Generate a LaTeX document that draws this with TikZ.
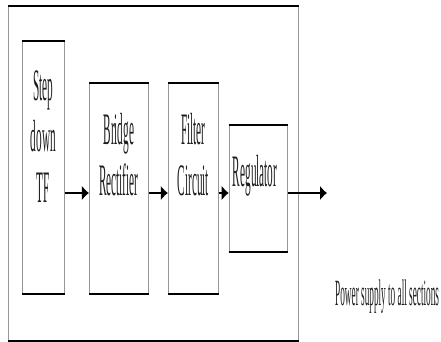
\documentclass[tikz,border=0pt]{standalone}
\usepackage{fontspec}
\usepackage{tikz}
\usetikzlibrary{positioning,arrows.meta}
\newfontfamily\narrowserif{Liberation Serif}[FakeStretch=0.25]
\definecolor{SideGray}{RGB}{150,150,150}
\definecolor{InkText}{RGB}{30,30,30}

\begin{document}
\begin{tikzpicture}[
    x=1pt, y=-1pt,
    stage/.style={rectangle, draw=SideGray, line width=0.9pt, inner sep=0pt, anchor=north west},
    rail/.style={line width=2.6pt, black, line cap=butt},
    flow/.style={-{Latex[length=7pt,width=15pt]}, line width=2pt, black},
    blocktext/.style={font=\narrowserif\fontsize{45}{51}\selectfont, text=InkText,
        align=center, anchor=north, inner sep=0pt, yshift=-30pt},
    caption/.style={font=\narrowserif\fontsize{37}{40}\selectfont, text=InkText,
        anchor=base west, inner sep=0pt},
]
\useasboundingbox (0,0) rectangle (441,342);

\node[stage, minimum width=290pt, minimum height=334pt] (outerbox) at (8,6) {};
\node[stage, minimum width=42pt, minimum height=252pt] (b1) at (22,41) {};
\node[stage, minimum width=59pt, minimum height=210pt, right=24pt of b1.south east, anchor=south west] (b2) {};
\node[stage, minimum width=50pt, minimum height=210pt, right=19pt of b2.south east, anchor=south west] (b3) {};
\node[stage, minimum width=58pt, minimum height=126pt, right=10pt of b3] (b4) {};

% thick top and bottom edges
\foreach \b in {outerbox,b1,b2,b3,b4}
    \draw[rail] (\b.north west) -- (\b.north east) (\b.south west) -- (\b.south east);

\node[blocktext] (t1) at (b1.north) {Step\\down\\TF};
\node[blocktext] (t2) at (b2.north) {Bridge\\Rectifier};
\node[blocktext] (t3) at (b3.north) {Filter\\Circuit};
\node[blocktext, xshift=-3pt] (t4) at (b4.north) {Regulator};

\coordinate (level) at (0,193);
\coordinate (out) at (327,193);
\draw[flow] (b1.east |- level) -- (b2.west |- level);
\draw[flow] (b2.east |- level) -- (b3.west |- level);
\draw[flow] (b3.east |- level) -- (b4.west |- level);
\draw[flow] (b4.east |- level) -- (out);

\node[caption] (supply) at (335,305) {Power supply to all sections};
\end{tikzpicture}
\end{document}
